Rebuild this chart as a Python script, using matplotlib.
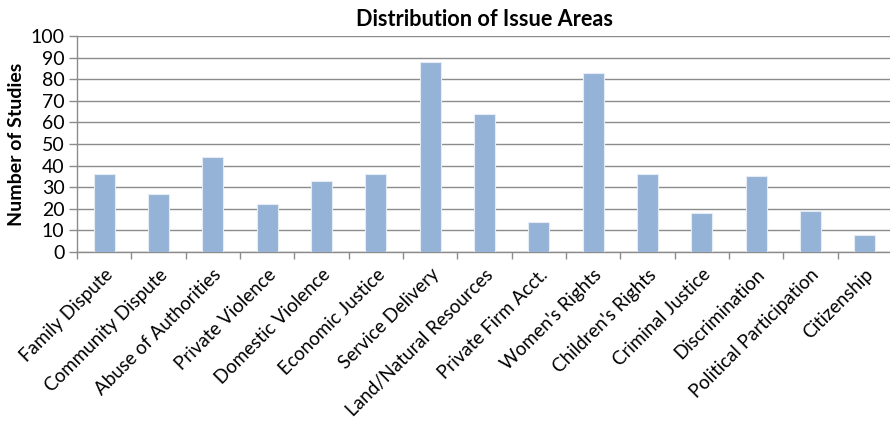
import matplotlib
matplotlib.use("Agg")
import matplotlib.pyplot as plt
import numpy as np

plt.rcParams['font.family'] = ['Lato', 'DejaVu Sans']

categories = [
    "Family Dispute", "Community Dispute", "Abuse of Authorities",
    "Private Violence", "Domestic Violence", "Economic Justice",
    "Service Delivery", "Land/Natural Resources", "Private Firm Acct.",
    "Women's Rights", "Children's Rights", "Criminal Justice",
    "Discrimination", "Political Participation", "Citizenship",
]
studies = [36, 27, 44, 22, 33, 36, 88, 64, 14, 83, 36, 18, 35, 19, 8]
y_ticks = list(range(0, 101, 10))

fig = plt.figure(figsize=(8.9, 4.24), dpi=100)
ax = fig.add_axes([77 / 890, 1 - 252 / 424, 815 / 890, 216 / 424])

x = np.arange(len(categories))
ax.bar(x, studies, width=0.39, color="#95b3d7", edgecolor="#e6ecf4",
       linewidth=0.8, zorder=3)

ax.set_xlim(-0.5, len(categories) - 0.5)
ax.set_ylim(0, 100)
ax.set_yticks(y_ticks)
ax.set_yticklabels([str(v) for v in y_ticks], fontsize=14)
ax.yaxis.grid(True, color="#8c8c8c", linewidth=1.0, zorder=0)
ax.set_axisbelow(True)

# category boundary ticks on x axis
ax.set_xticks(np.arange(-0.5, len(categories), 1.0))
ax.set_xticklabels([])
ax.set_xticks(x, minor=True)
ax.set_xticklabels(categories, minor=True, rotation=45, ha="right",
                   rotation_mode="anchor", fontsize=13.5)
ax.tick_params(axis="x", which="minor", length=0, pad=10)
ax.tick_params(axis="x", which="major", length=5, color="#8c8c8c", width=1)
ax.tick_params(axis="y", length=6, color="#8c8c8c", width=1, pad=3)

for side in ["top", "right"]:
    ax.spines[side].set_visible(False)
for side in ["left", "bottom"]:
    ax.spines[side].set_color("#8c8c8c")
    ax.spines[side].set_linewidth(1)

ax.set_ylabel("Number of Studies", fontsize=14, fontweight="bold", labelpad=4)
ax.set_title("Distribution of Issue Areas", fontsize=15.6, fontweight="bold", pad=7)

fig.savefig("out.png", dpi=100)
